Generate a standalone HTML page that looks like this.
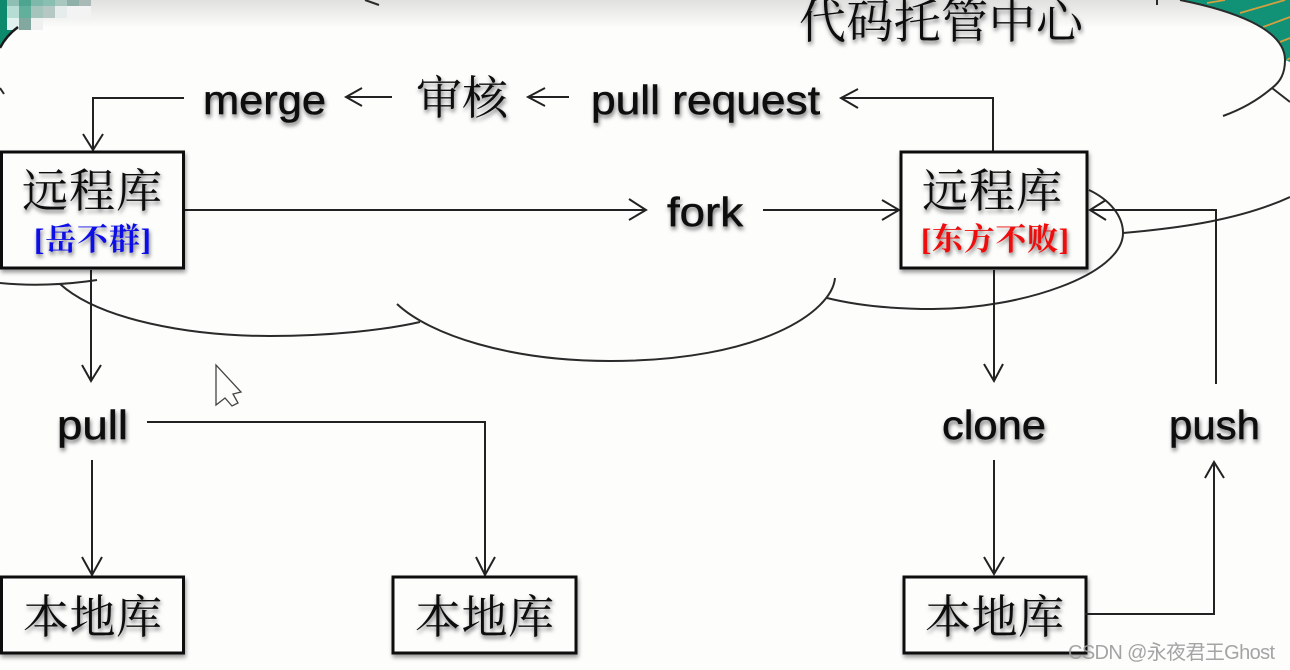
<!DOCTYPE html>
<html lang="zh">
<head>
<meta charset="utf-8">
<style>
html,body{margin:0;padding:0;width:1290px;height:670px;overflow:hidden;background:#fdfefc}
svg{display:block;position:absolute;left:0;top:0}
.lat{font-family:"Liberation Sans",sans-serif;font-size:41px;fill:#0a0a0a;stroke:#0a0a0a;stroke-width:.5;filter:url(#ts)}
.cjk{font-family:"Noto Serif CJK SC","Liberation Serif",serif;fill:#111;filter:url(#ts)}
.box{fill:#fdfefc;stroke:#111;stroke-width:3;filter:url(#bs)}
.ln{fill:none;stroke:#222;stroke-width:2}
.cl{fill:none;stroke:#2a2a2a;stroke-width:2}
</style>
</head>
<body>
<svg width="1290" height="670" viewBox="0 0 1290 670" xmlns="http://www.w3.org/2000/svg">
<defs>
<filter id="ts" x="-20%" y="-30%" width="140%" height="170%"><feDropShadow dx="1" dy="3" stdDeviation="2" flood-color="#000" flood-opacity=".55"/></filter>
<filter id="bs" x="-10%" y="-10%" width="120%" height="125%"><feDropShadow dx="1" dy="3" stdDeviation="2" flood-color="#000" flood-opacity=".4"/></filter>
<linearGradient id="top" x1="0" y1="0" x2="0" y2="1"><stop offset="0" stop-color="#e0e1df"/><stop offset="1" stop-color="#fdfefc"/></linearGradient>
</defs>
<rect width="1290" height="670" fill="#fdfefc"/>
<rect x="0" y="0" width="1290" height="28" fill="url(#top)"/>

<!-- top-left corner -->
<path d="M0 0H7V30H14L18 27C10 33 4 40 0 48Z" fill="#0d8a6e"/>
<g>
<rect x="7" y="0" width="12" height="6" fill="#8fbfb3"/><rect x="19" y="0" width="12" height="6" fill="#4da58f"/>
<rect x="31" y="0" width="12" height="6" fill="#7db8aa"/><rect x="43" y="0" width="12" height="6" fill="#88bfb0"/>
<rect x="55" y="0" width="12" height="6" fill="#a8c8bf"/><rect x="67" y="0" width="12" height="6" fill="#8fb0a8"/>
<rect x="79" y="0" width="12" height="6" fill="#a9b9b5"/>
<rect x="7" y="6" width="12" height="12" fill="#b5ddd4"/><rect x="19" y="6" width="12" height="12" fill="#62b09c"/>
<rect x="31" y="6" width="12" height="12" fill="#a5c4bc"/><rect x="43" y="6" width="12" height="12" fill="#b5c8c3"/>
<rect x="55" y="6" width="12" height="12" fill="#e6eceb"/><rect x="67" y="6" width="24" height="12" fill="#f2f3f2"/>
<rect x="7" y="18" width="12" height="12" fill="#e2f2ee"/><rect x="19" y="18" width="12" height="12" fill="#83a8a0"/>
<rect x="31" y="18" width="12" height="12" fill="#eff1f0"/>
</g>
<path d="M0 48C4 40 10 33 18 27" fill="none" stroke="#1a1a1a" stroke-width="2.500"/>

<!-- top-right corner -->
<path d="M1180 0C1230 10 1285 28 1285 60L1290 62V0Z" fill="#119276"/>
<path d="M1207 3L1225 0M1240 13L1285 0M1263 27L1290 17M1280 42L1290 38M1287 60L1290 58" stroke="#d0a040" stroke-width="1.800" fill="none"/>

<!-- cloud -->
<path class="cl" d="M0 88L4 94"/>
<path class="cl" d="M365 0L379 5"/>
<path class="cl" d="M1157 0V5"/>
<path class="cl" d="M1180 0C1230 10 1285 28 1285 60C1285 74 1280 82 1272 88C1258 100 1240 110 1223 116"/>
<path class="cl" d="M1272 88L1290 102"/>
<path class="cl" d="M1290 197C1240 220 1180 228 1123 233"/>
<path class="cl" d="M1089 190C1110 200 1123 216 1123 233C1123 275 1020 309 933 309C890 309 855 305 827 298"/>
<path class="cl" d="M835 278C832 312 760 361 610 361C510 361 430 335 397 304"/>
<path class="cl" d="M0 283C30 286 65 285 97 280"/>
<path class="cl" d="M60 284C100 320 190 336 270 336C330 336 385 330 420 322"/>

<!-- connectors -->
<g class="ln">
<path d="M184 98H93V150"/><path d="M83 134L93 150L103 134"/>
<path d="M392 97H346"/><path d="M362 88L346 97L362 106"/>
<path d="M569 97H528"/><path d="M545 88L528 97L545 106"/>
<path d="M993 152V98H841"/><path d="M858 89L841 98L858 108"/>
<path d="M184 210H646"/><path d="M629 199L646 210L629 220"/>
<path d="M763 210H899"/><path d="M882 200L899 210L882 220"/>
<path d="M1216 384V210H1090"/><path d="M1106 200L1090 210L1106 220"/>
<path d="M91 270V381"/><path d="M82 365L91 381L101 365"/>
<path d="M92 460V575"/><path d="M82 557L92 575L102 557"/>
<path d="M147 422H485V575"/><path d="M476 557L485 575L495 557"/>
<path d="M994 270V381"/><path d="M984 364L994 381L1003 364"/>
<path d="M994 460V574"/><path d="M984 557L994 574L1004 557"/>
<path d="M1084 614H1214V462"/><path d="M1205 478L1214 462L1224 478"/>
</g>

<!-- boxes -->
<rect class="box" x="1.500" y="152" width="182" height="116"/>
<rect class="box" x="901" y="152" width="186" height="116"/>
<rect class="box" x="1.500" y="577" width="182" height="76"/>
<rect class="box" x="393" y="577" width="183" height="76"/>
<rect class="box" x="904" y="577" width="182" height="76"/>
<path class="ln" d="M1085 614H1100"/>

<!-- labels -->
<text class="cjk" x="799" y="38" font-size="47" textLength="284" lengthAdjust="spacing">代码托管中心</text>
<text class="lat" x="203" y="114" textLength="123" lengthAdjust="spacingAndGlyphs">merge</text>
<text class="cjk" x="416" y="114" font-size="46" textLength="92" lengthAdjust="spacing">审核</text>
<text class="lat" x="591" y="114" textLength="229" lengthAdjust="spacingAndGlyphs">pull request</text>
<text class="lat" x="667" y="226" textLength="76" lengthAdjust="spacingAndGlyphs">fork</text>
<text class="lat" x="57" y="439" textLength="71" lengthAdjust="spacingAndGlyphs">pull</text>
<text class="lat" x="942" y="439" textLength="104" lengthAdjust="spacingAndGlyphs">clone</text>
<text class="lat" x="1169" y="439" textLength="91" lengthAdjust="spacingAndGlyphs">push</text>

<text class="cjk" x="22" y="207" font-size="46" textLength="140" lengthAdjust="spacing">远程库</text>
<text class="cjk" x="922" y="207" font-size="46" textLength="140" lengthAdjust="spacing">远程库</text>
<text x="34" y="250" font-family="'Liberation Serif','Noto Serif CJK SC',serif" font-size="31" font-weight="700" fill="#0a0ae6" textLength="117" lengthAdjust="spacing" filter="url(#ts)">[岳不群]</text>
<text x="921" y="250" font-family="'Liberation Serif','Noto Serif CJK SC',serif" font-size="31" font-weight="700" fill="#ee0a0a" textLength="148" lengthAdjust="spacing" filter="url(#ts)">[东方不败]</text>
<text class="cjk" x="23" y="633" font-size="46" textLength="139" lengthAdjust="spacing">本地库</text>
<text class="cjk" x="415" y="633" font-size="46" textLength="139" lengthAdjust="spacing">本地库</text>
<text class="cjk" x="925" y="633" font-size="46" textLength="139" lengthAdjust="spacing">本地库</text>

<!-- cursor -->
<path d="M216 365V405L225 398L232 406L238 403L233 394L241 392Z" fill="#fdfefc" stroke="#444" stroke-width="1.300"/>

<!-- watermark -->
<text x="1068" y="659" font-family="'Liberation Sans','Noto Sans CJK SC',sans-serif" font-size="20" fill="#9a9a9a" fill-opacity=".9" textLength="207" lengthAdjust="spacing">CSDN @永夜君王Ghost</text>
</svg>
</body>
</html>
